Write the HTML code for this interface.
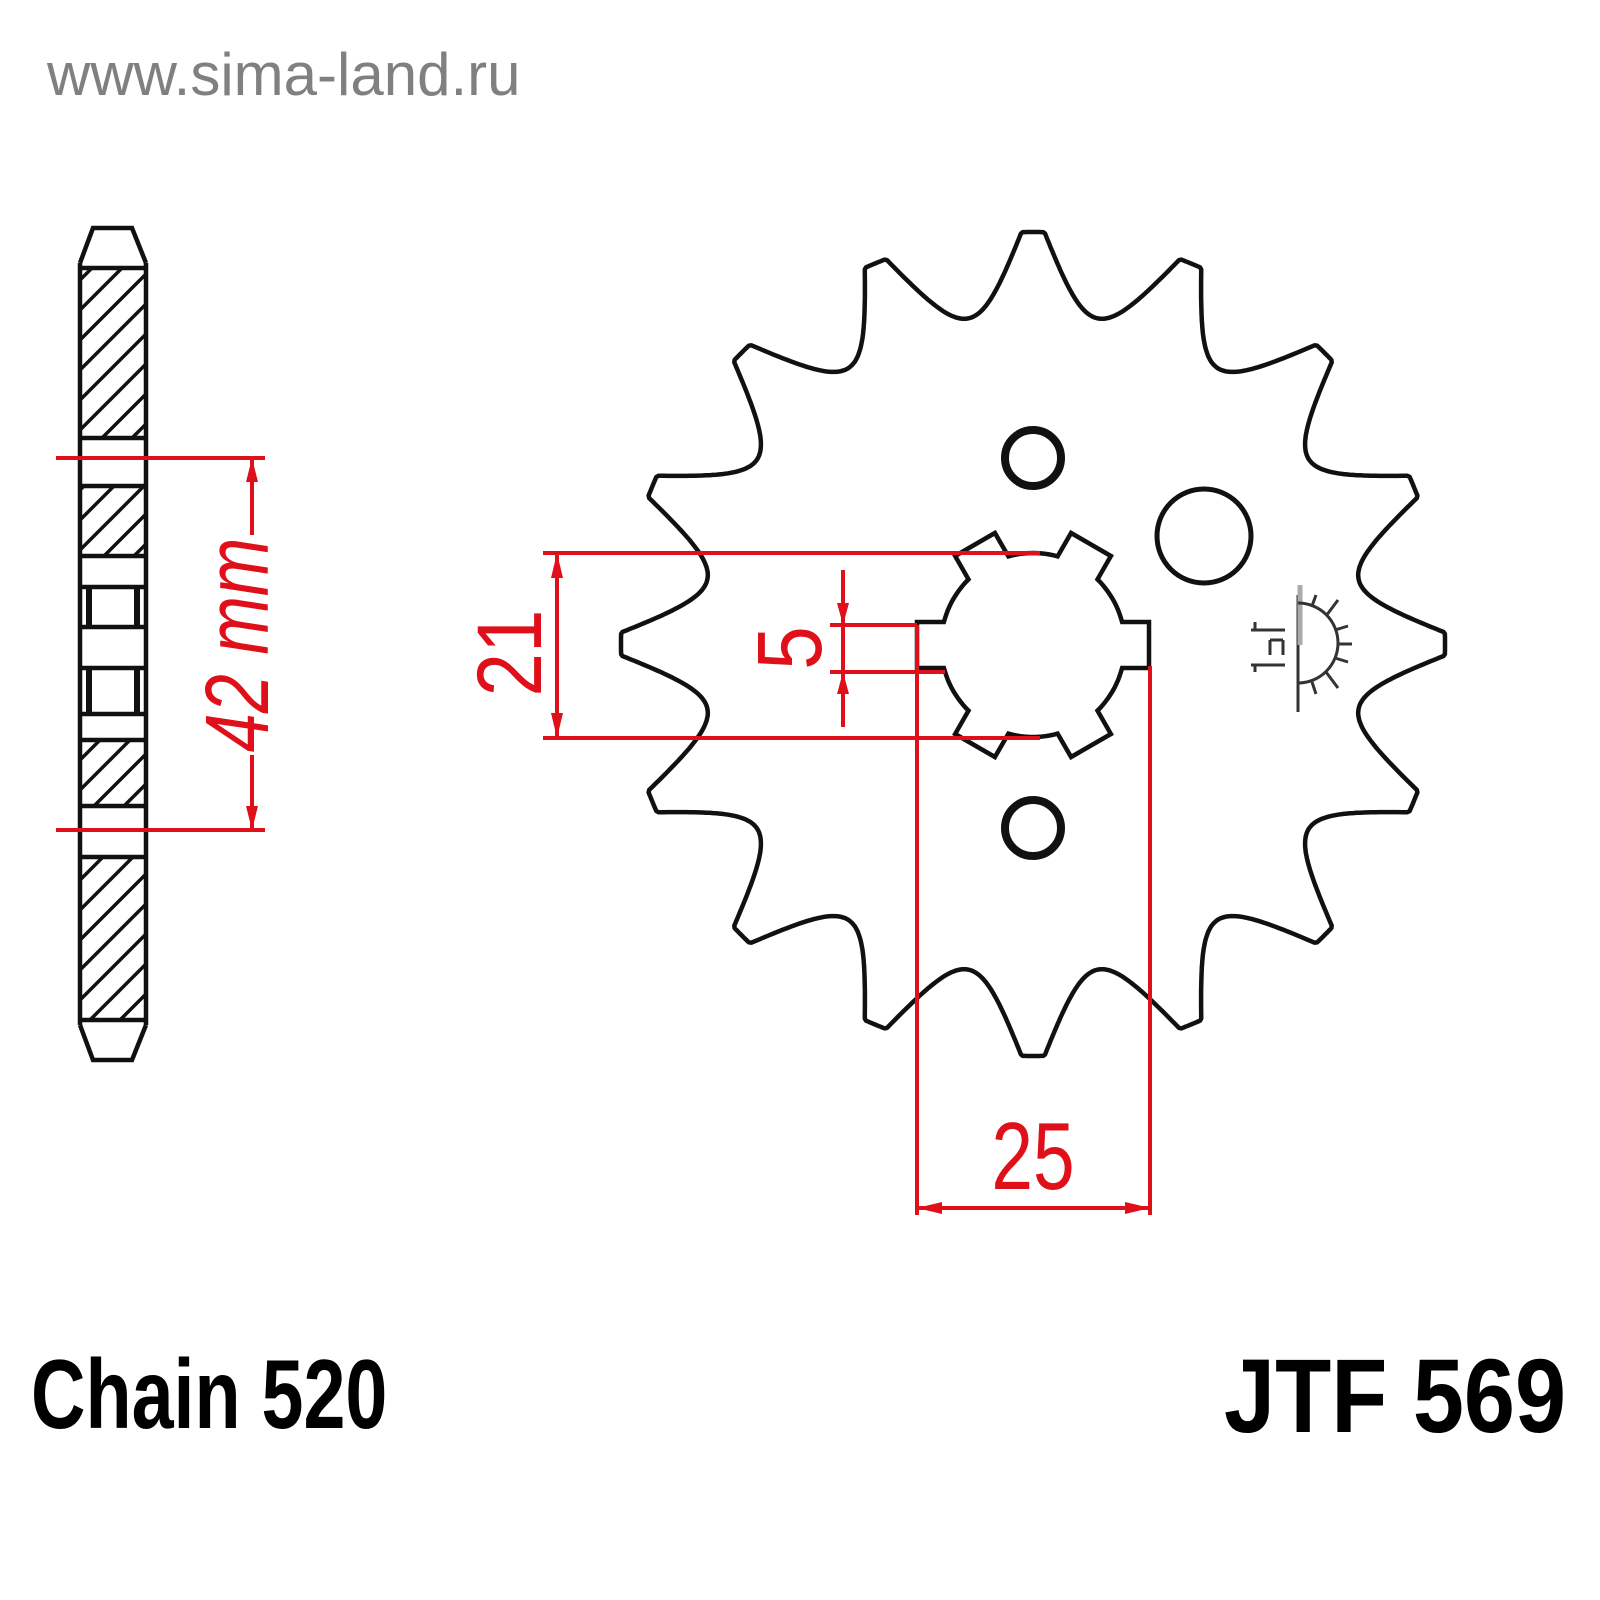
<!DOCTYPE html>
<html><head><meta charset="utf-8"><style>
html,body{margin:0;padding:0;background:#fff}
svg{display:block}
</style></head><body>
<svg id="s" width="1600" height="1600" viewBox="0 0 1600 1600" xmlns="http://www.w3.org/2000/svg">
<defs>
<pattern id="h" patternUnits="userSpaceOnUse" width="30" height="30">
<path d="M-5,35 L35,-5 M-20,20 L20,-20 M10,50 L50,10" stroke="#111" stroke-width="3.5"/>
</pattern>
</defs>
<rect width="1600" height="1600" fill="#fff"/>
<text x="47" y="95" font-family="Liberation Sans, sans-serif" font-size="60" fill="#808080">www.sima-land.ru</text>

<g stroke="#111" stroke-width="4.5" fill="none">
<rect x="80" y="268" width="66" height="170" fill="url(#h)" stroke="none"/>
<rect x="80" y="486" width="66" height="70" fill="url(#h)" stroke="none"/>
<rect x="80" y="740" width="66" height="66" fill="url(#h)" stroke="none"/>
<rect x="80" y="857" width="66" height="163" fill="url(#h)" stroke="none"/>
<path d="M80,263 L93,228 L132,228 L146,263"/>
<path d="M80,1025 L93,1060 L132,1060 L146,1025"/>
<path d="M80,263 L80,1025 M146,263 L146,1025"/>
<path d="M80,268 H146 M80,438 H146 M80,486 H146 M80,556 H146 M80,587 H146 M80,627 H146 M80,668 H146 M80,714 H146 M80,740 H146 M80,806 H146 M80,857 H146 M80,1020 H146"/>
<path d="M89,587 V627 M137,587 V627 M89,668 V714 M137,668 V714" stroke-width="6"/>
</g>
<g stroke="#e0101a" stroke-width="4" fill="#e0101a">
<path d="M56,458 H265 M56,830 H265 M252,458 V535 M252,755 V830" fill="none"/>
<path d="M252,458 L246,482 L258,482 Z M252,830 L246,806 L258,806 Z" stroke="none"/>
</g>
<text transform="translate(268,645) rotate(-90) scale(0.78,1)" text-anchor="middle" font-family="Liberation Sans, sans-serif" font-style="italic" font-size="90" fill="#e0101a">42 mm</text>

<path id="gear" fill="none" stroke="#111" stroke-width="4.5" stroke-linejoin="round"/>
<path id="bore" fill="none" stroke="#111" stroke-width="4.5" stroke-linejoin="miter"/>
<circle cx="1033" cy="458" r="28" fill="none" stroke="#111" stroke-width="8"/>
<circle cx="1033" cy="828" r="28" fill="none" stroke="#111" stroke-width="8"/>
<circle cx="1204" cy="536" r="47" fill="none" stroke="#111" stroke-width="5"/>

<g stroke="#333" fill="none" stroke-width="3">
<path d="M1298,595 V712"/>
<path d="M1300,585 V645" stroke="#aaa" stroke-width="5"/>
<path d="M1298,603 A40,40 0 0 1 1298,683"/>
<path d="M1312,606 L1316,595 M1326,616 L1338,600 M1335,630 L1348,626 M1338,644 L1352,644 M1335,658 L1348,662 M1326,672 L1338,688 M1312,682 L1316,694"/>
<path d="M1251,630 H1285 M1255,630 V622 M1270,640 V655 M1283,640 V655 M1270,640 H1283 M1251,665 H1285 M1255,665 V672" stroke-width="3"/>
</g>

<g stroke="#e0101a" stroke-width="4" fill="none">
<path d="M543,553 H1040 M543,738 H1040"/>
<path d="M557,553 V738"/>
<path d="M830,625 H917 M830,672 H945"/>
<path d="M843,570 V727"/>
<path d="M917,625 V1215 M1150,666 V1215"/>
<path d="M917,1208 H1150"/>
</g>
<g fill="#e0101a">
<path d="M557,553 L551,578 L563,578 Z M557,738 L551,713 L563,713 Z"/>
<path d="M843,625 L837,603 L849,603 Z M843,672 L837,694 L849,694 Z"/>
<path d="M917,1208 L942,1202 L942,1214 Z M1150,1208 L1125,1202 L1125,1214 Z"/>
</g>
<text transform="translate(541,653) rotate(-90) scale(0.85,1)" text-anchor="middle" font-family="Liberation Sans, sans-serif" font-size="92" fill="#e0101a">21</text>
<text transform="translate(821,648) rotate(-90) scale(0.85,1)" text-anchor="middle" font-family="Liberation Sans, sans-serif" font-size="92" fill="#e0101a">5</text>
<text transform="translate(1033,1189) scale(0.78,1)" text-anchor="middle" font-family="Liberation Sans, sans-serif" font-size="96" fill="#e0101a">25</text>

<text transform="translate(31,1428) scale(0.77,1)" font-family="Liberation Sans, sans-serif" font-weight="bold" font-size="98" fill="#000">Chain 520</text>
<text transform="translate(1224,1432) scale(0.875,1)" font-family="Liberation Sans, sans-serif" font-weight="bold" font-size="105" fill="#000">JTF 569</text>
</svg>
<script>
(function(){
var cx=1033,cy=644,N=16,P=360/N,RT=412,RR=332,TIP=1.6;
var pts=[];
function rofs(t){
  t=Math.abs(t);
  if(t<=TIP) return RT;
  var s=(t-TIP)/(P/2-TIP); if(s>1)s=1;
  var f=1-Math.pow(1-s,2);
  return RT-(RT-RR)*f;
}
for(var i=0;i<N;i++){
  var c=-90+i*P;
  for(var k=-40;k<40;k++){
    var t=k*(P/2)/40;
    var r=rofs(t), a=(c+t)*Math.PI/180;
    pts.push((cx+r*Math.cos(a)).toFixed(1)+','+(cy+r*Math.sin(a)).toFixed(1));
  }
}
document.getElementById('gear').setAttribute('d','M'+pts.join(' L')+' Z');
var bx=1033,by=645,R=92,RO=116,W=23,d=[];
var dl=Math.asin(W/R)*180/Math.PI, ti=Math.sqrt(R*R-W*W);
for(var j=0;j<6;j++){
  var a0=j*60, a=a0*Math.PI/180;
  var ux=Math.cos(a),uy=Math.sin(a),vx=-uy,vy=ux;
  var prevEnd=(a0-60)+dl, start=a0-dl;
  for(var q=0;q<=12;q++){
    var an=(prevEnd+(start-prevEnd)*q/12)*Math.PI/180;
    d.push((bx+R*Math.cos(an)).toFixed(1)+','+(by+R*Math.sin(an)).toFixed(1));
  }
  d.push((bx+ux*RO-vx*W).toFixed(1)+','+(by+uy*RO-vy*W).toFixed(1));
  d.push((bx+ux*RO+vx*W).toFixed(1)+','+(by+uy*RO+vy*W).toFixed(1));
  d.push((bx+ux*ti+vx*W).toFixed(1)+','+(by+uy*ti+vy*W).toFixed(1));
}
document.getElementById('bore').setAttribute('d','M'+d.join(' L')+' Z');
})();
</script>
</body></html>
